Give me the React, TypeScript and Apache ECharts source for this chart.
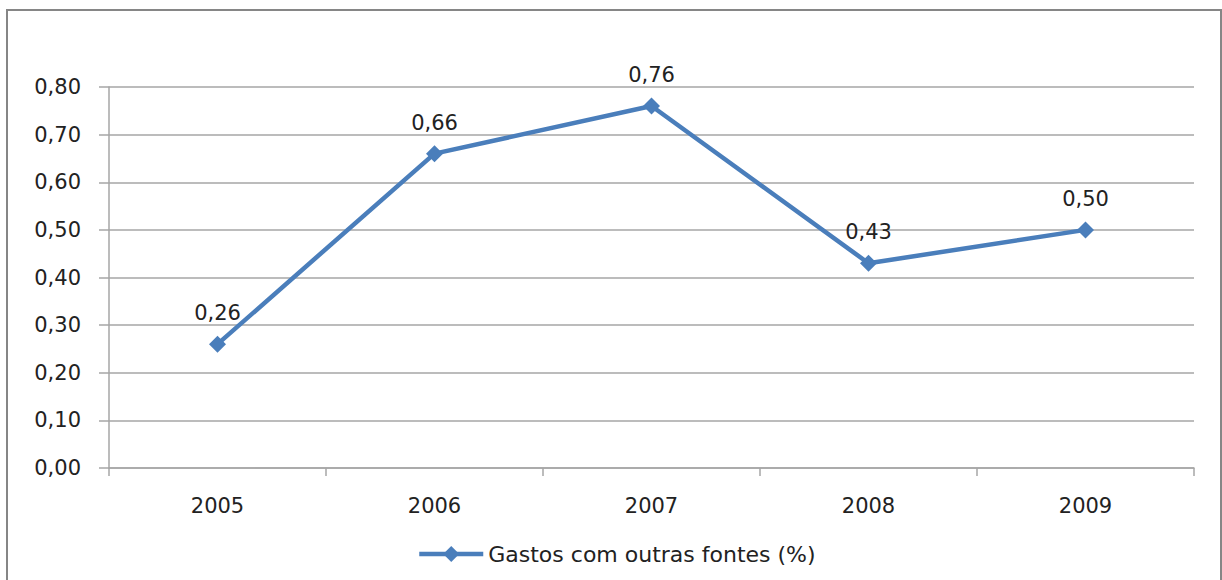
import React, { useEffect, useRef } from "react";
import * as echarts from "echarts";

const categories = ["2005", "2006", "2007", "2008", "2009"];
const seriesName = "Gastos com outras fontes (%)";
const values = [0.26, 0.66, 0.76, 0.43, 0.5];
const yMin = 0;
const yMax = 0.8;
const yInterval = 0.1;

const fmt = (v: number) => v.toFixed(2).replace(".", ",");
const FONT = "DejaVu Sans";
const FS = 21;

export default function App() {
  const ref = useRef<HTMLDivElement>(null);
  useEffect(() => {
    if (!ref.current) return;
    const chart = echarts.init(ref.current, undefined, { renderer: "svg" });
    chart.setOption({
      animation: false,
      backgroundColor: "#ffffff",
      textStyle: { fontFamily: FONT },
      graphic: [
        {
          type: "rect",
          shape: { x: 7, y: 10, width: 1214, height: 580 },
          style: { fill: "none", stroke: "#868686", lineWidth: 2 },
          silent: true,
        },
      ],
      grid: { left: 109, right: 28, top: 87, bottom: 112 },
      xAxis: {
        type: "category",
        data: categories,
        boundaryGap: true,
        axisLine: { show: true, lineStyle: { color: "#a6a6a6", width: 1.5 } },
        axisTick: { show: true, length: 8, alignWithLabel: false, lineStyle: { color: "#a6a6a6", width: 1.5 } },
        axisLabel: { color: "#222", fontSize: FS, fontFamily: FONT, margin: 27 },
      },
      yAxis: {
        type: "value",
        min: yMin,
        max: yMax,
        interval: yInterval,
        axisLine: { show: true, lineStyle: { color: "#a6a6a6", width: 1.5 } },
        axisTick: { show: true, length: 10, lineStyle: { color: "#a6a6a6", width: 1.5 } },
        splitLine: { show: true, lineStyle: { color: "#a6a6a6", width: 1.5 } },
        axisLabel: { color: "#222", fontSize: FS, fontFamily: FONT, margin: 28, formatter: (v: number) => fmt(v) },
      },
      legend: {
        data: [seriesName],
        left: 412,
        top: 538,
        itemWidth: 64,
        itemHeight: 20,
        itemGap: 5,
        lineStyle: { width: 4.5 },
        textStyle: { color: "#222", fontSize: 22, fontFamily: FONT },
      },
      series: [
        {
          name: seriesName,
          type: "line",
          data: values,
          color: "#4a7ebb",
          lineStyle: { color: "#4a7ebb", width: 4.5 },
          itemStyle: { color: "#4a7ebb" },
          symbol: "diamond",
          symbolSize: 17,
          label: {
            show: true,
            position: "top",
            distance: 12,
            color: "#222",
            fontSize: FS,
            fontFamily: FONT,
            formatter: (p: any) => fmt(p.value),
          },
        },
      ],
    });
    return () => chart.dispose();
  }, []);
  return <div ref={ref} style={{ position: "fixed", left: 0, top: 0, width: 1222, height: 580 }} />;
}
